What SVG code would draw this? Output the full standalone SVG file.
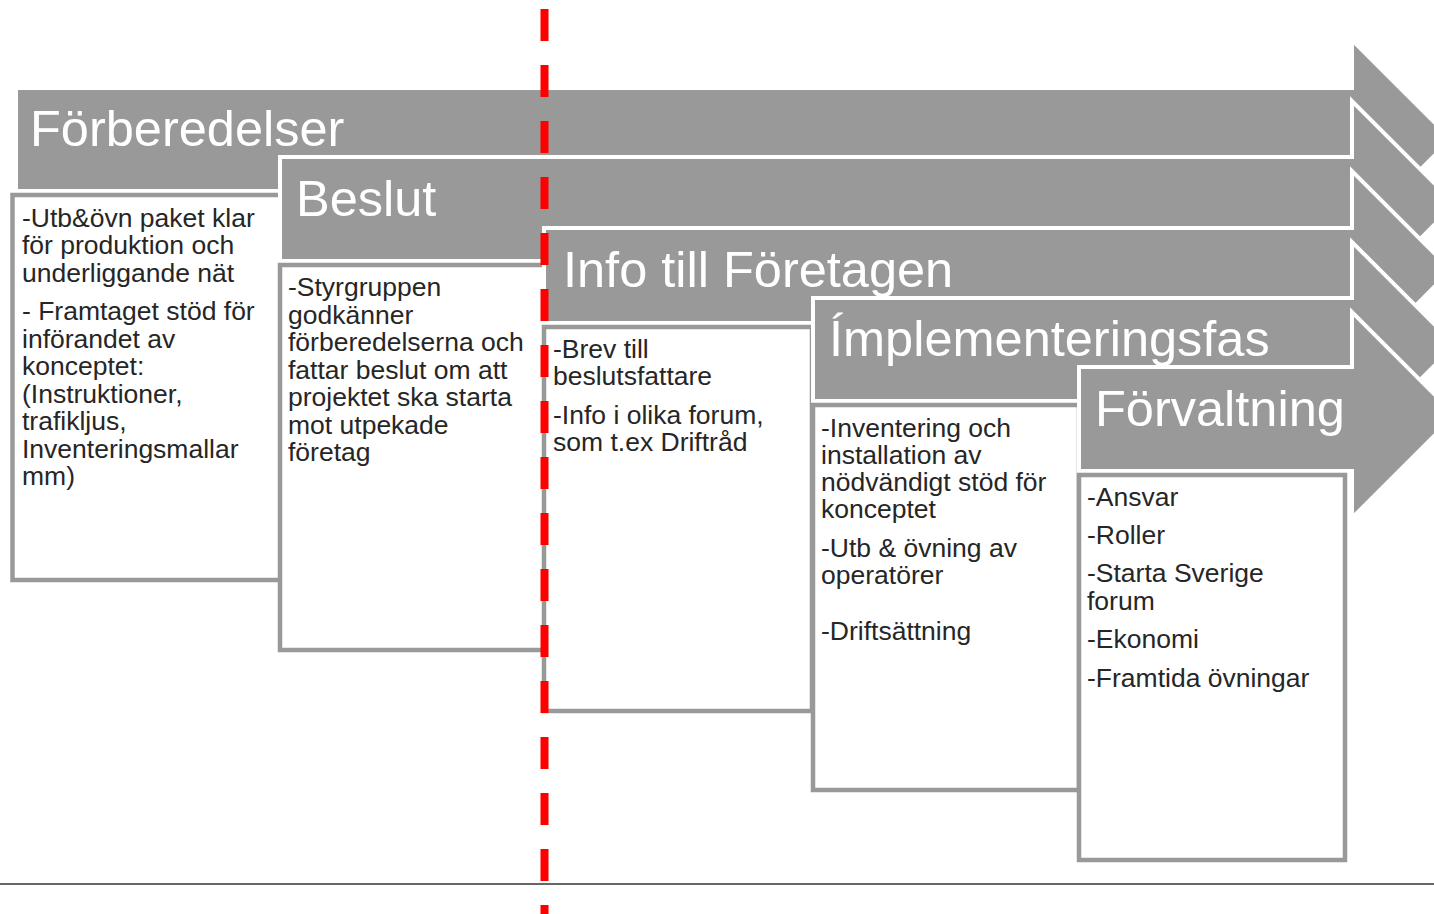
<svg xmlns="http://www.w3.org/2000/svg" width="1434" height="914" viewBox="0 0 1434 914">
<style>
.arrow{fill:#999999;stroke:#ffffff;stroke-width:4;stroke-linejoin:miter}
.box{fill:#ffffff;stroke:#999999;stroke-width:4.5}
.head{font-family:"Liberation Sans",Arial,sans-serif;font-size:50.5px;fill:#ffffff}
.body{font-family:"Liberation Sans",Arial,sans-serif;font-size:26.5px;fill:#262626}
</style>
<rect x="0" y="0" width="1434" height="914" fill="#ffffff"/>
<g id="phase1">
<polygon class="arrow" points="16,88 1352,88 1352,40 1451,139 1352,238 1352,191 16,191"/>
<text class="head" x="30" y="146">Förberedelser</text>
<rect class="box" x="12.5" y="195" width="268" height="385"/>
<text class="body"><tspan x="22" y="226.5">-Utb&amp;övn paket klar</tspan><tspan x="22" y="254">för produktion och</tspan><tspan x="22" y="281.5">underliggande nät</tspan><tspan x="22" y="320">- Framtaget stöd för</tspan><tspan x="22" y="347.5">införandet av</tspan><tspan x="22" y="375">konceptet:</tspan><tspan x="22" y="402.5">(Instruktioner,</tspan><tspan x="22" y="430">trafikljus,</tspan><tspan x="22" y="457.5">Inventeringsmallar</tspan><tspan x="22" y="485">mm)</tspan></text>
</g>
<g id="phase2">
<polygon class="arrow" points="280,157 1352,157 1352,101 1455,204 1352,308 1352,261 280,261"/>
<text class="head" x="296" y="216">Beslut</text>
<rect class="box" x="280" y="265" width="265" height="385"/>
<text class="body"><tspan x="288" y="296">-Styrgruppen</tspan><tspan x="288" y="323.5">godkänner</tspan><tspan x="288" y="351">förberedelserna och</tspan><tspan x="288" y="378.5">fattar beslut om att</tspan><tspan x="288" y="406">projektet ska starta</tspan><tspan x="288" y="433.5">mot utpekade</tspan><tspan x="288" y="461">företag</tspan></text>
</g>
<g id="phase3">
<polygon class="arrow" points="544,228 1352,228 1352,171 1451,270 1352,370 1352,323 544,323"/>
<text class="head" x="563" y="287">Info till Företagen</text>
<rect class="box" x="544" y="327" width="268" height="384"/>
<text class="body"><tspan x="553" y="357.5">-Brev till</tspan><tspan x="553" y="384.5">beslutsfattare</tspan><tspan x="553" y="423.5">-Info i olika forum,</tspan><tspan x="553" y="450.5">som t.ex Driftråd</tspan></text>
</g>
<g id="phase4">
<polygon class="arrow" points="813,298 1352,298 1352,242 1455,345 1352,448 1352,401 813,401"/>
<text class="head" x="829" y="356">Ímplementeringsfas</text>
<rect class="box" x="813" y="405" width="266" height="385"/>
<text class="body"><tspan x="821" y="436.5">-Inventering och</tspan><tspan x="821" y="463.5">installation av</tspan><tspan x="821" y="491">nödvändigt stöd för</tspan><tspan x="821" y="518">konceptet</tspan><tspan x="821" y="557">-Utb &amp; övning av</tspan><tspan x="821" y="584">operatörer</tspan><tspan x="821" y="640">-Driftsättning</tspan></text>
</g>
<g id="phase5">
<polygon class="arrow" points="1079,367 1352,367 1352,312 1455,415 1352,518 1352,471 1079,471"/>
<text class="head" x="1095" y="426">Förvaltning</text>
<rect class="box" x="1079" y="475" width="266" height="385"/>
<text class="body"><tspan x="1087" y="506">-Ansvar</tspan><tspan x="1087" y="544">-Roller</tspan><tspan x="1087" y="582">-Starta Sverige</tspan><tspan x="1087" y="610">forum</tspan><tspan x="1087" y="648">-Ekonomi</tspan><tspan x="1087" y="687">-Framtida övningar</tspan></text>
</g>
<g id="connectors">
<line x1="0" y1="884" x2="1434" y2="884" stroke="#333333" stroke-width="1.5"/>
<line x1="544.5" y1="9" x2="544.5" y2="914" stroke="#ff0000" stroke-width="8" stroke-dasharray="32 24"/>
</g>
</svg>
